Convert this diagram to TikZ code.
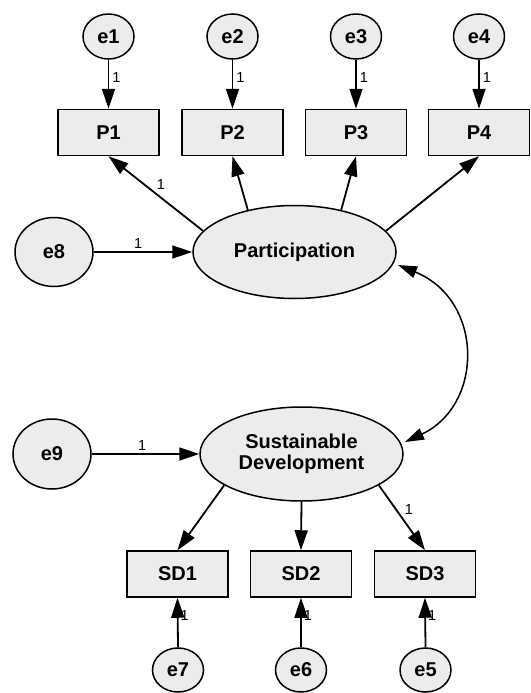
\documentclass[tikz,border=0pt]{standalone}
\usepackage{fontspec}
\setmainfont{Liberation Sans}
\usetikzlibrary{arrows.meta,shapes.geometric}
\definecolor{nodefill}{RGB}{236,236,236}
\tikzset{
  every node/.style={font=\fontsize{20}{22}\selectfont\bfseries},
  errc/.style={ellipse, draw=black, line width=1.5pt, fill=nodefill, minimum width=51pt, minimum height=45pt, inner sep=0pt},
  bigerr/.style={ellipse, draw=black, line width=1.5pt, fill=nodefill, minimum width=78pt, minimum height=70pt, inner sep=0pt},
  latent/.style={ellipse, draw=black, line width=1.5pt, fill=nodefill, minimum width=203pt, minimum height=94pt, inner sep=0pt, align=center},
  obs/.style={rectangle, draw=black, line width=1.5pt, fill=nodefill, minimum width=101pt, minimum height=46pt, inner sep=0pt},
  arr/.style={line width=1.8pt, -{Triangle[length=20pt,width=13pt]}},
  curv/.style={line width=1.5pt, {Triangle[length=19pt,width=12pt]}-{Triangle[length=19pt,width=12pt]}},
  lbl/.style={font=\fontsize{14.5}{16}\selectfont, inner sep=2pt}
}
\begin{document}
\begin{tikzpicture}[x=1pt,y=-1pt]
\useasboundingbox (0,0) rectangle (530,693);
% error terms top
\node[errc] (e1) at (108.5,36.5) {e1};
\node[errc] (e2) at (232.5,36.5) {e2};
\node[errc] (e3) at (356,36.5) {e3};
\node[errc] (e4) at (479,36.5) {e4};
% observed P
\node[obs] (P1) at (108.5,132.5) {P1};
\node[obs] (P2) at (232.5,132.5) {P2};
\node[obs] (P3) at (356,132.5) {P3};
\node[obs] (P4) at (479,132.5) {P4};
% latent
\node[latent, minimum height=93pt] (Part) at (294.5,252) {Participation};
\node[latent] (SD) at (301.5,454) {Sustainable\\[-1pt]Development};
\node[bigerr, minimum height=69pt] (e8) at (54,252) {e8};
\node[bigerr] (e9) at (52,454) {e9};
% observed SD
\node[obs] (SD1) at (177.5,574) {SD1};
\node[obs] (SD2) at (301,574) {SD2};
\node[obs] (SD3) at (425,574) {SD3};
% bottom errors
\node[errc, minimum height=44pt] (e7) at (178,670) {e7};
\node[errc, minimum height=44pt] (e6) at (301,670) {e6};
\node[errc, minimum height=44pt] (e5) at (425.5,670) {e5};

% error -> P arrows
\draw[arr] (e1.south) -- node[lbl, pos=0.36, right=1pt] {1} (P1.north);
\draw[arr] (e2.south) -- node[lbl, pos=0.36, right=1pt] {1} (P2.north);
\draw[arr] (e3.south) -- node[lbl, pos=0.36, right=1pt] {1} (P3.north);
\draw[arr] (e4.south) -- node[lbl, pos=0.36, right=1pt] {1} (P4.north);
% Participation -> P
\draw[arr] (Part.167) -- node[lbl, pos=0.52, above right=0pt] {1} (P1.south);
\draw[arr] (Part.138) -- (P2.south);
\draw[arr] (Part.42) -- (P3.south);
\draw[arr] (Part.13) -- (P4.south);
% e8 -> Participation
\draw[arr] (e8.east) -- node[lbl, pos=0.45, above=1pt] {1} (Part.west);
% e9 -> SD
\draw[arr] (e9.east) -- node[lbl, pos=0.47, above=1pt] {1} (SD.west);
% SD -> SD items
\draw[arr] (SD.202) -- (SD1.north);
\draw[arr] (SD.270) -- (SD2.north);
\draw[arr] (SD.338) -- node[lbl, pos=0.5, above right=0pt] {1} (SD3.north);
% bottom errors -> SD items
\draw[arr] (e7.north) -- node[lbl, pos=0.65, right=0pt] {1} (SD1.south);
\draw[arr] (e6.north) -- node[lbl, pos=0.65, right=0pt] {1} (SD2.south);
\draw[arr] (e5.north) -- node[lbl, pos=0.65, right=0pt] {1} (SD3.south);
% covariance
\coordinate (cA) at (398,265);
\coordinate (cB) at (405,442);
\draw[curv] (cA) .. controls (484,300) and (484,405) .. (cB);
\end{tikzpicture}
\end{document}
